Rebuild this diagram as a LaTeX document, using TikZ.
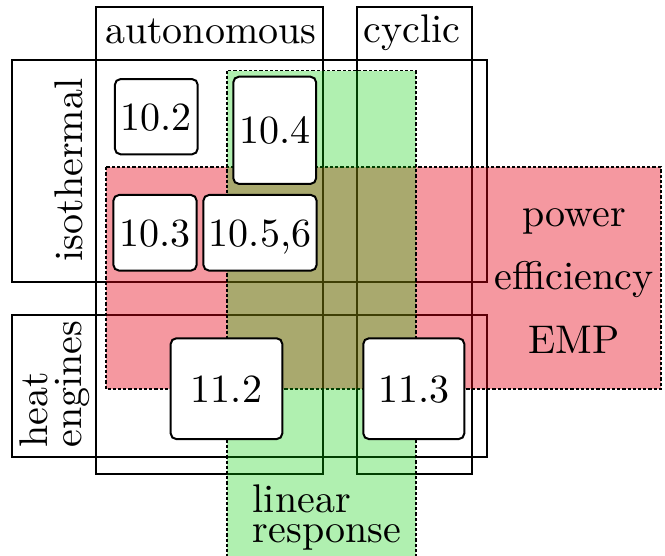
\documentclass[tikz,border=0pt]{standalone}
\definecolor{regred}{RGB}{230,0,20}
\definecolor{reggreen}{RGB}{0,206,0}
\begin{document}
\begin{tikzpicture}[x=0.25pt,y=-0.25pt,
  frame/.style={draw=black,line width=0.5pt},
  region/.style={draw=black,line width=0.4pt,dash pattern=on 0.8pt off 0.5pt},
  redregion/.style={region,fill=regred,fill opacity=0.404},
  greenregion/.style={region,fill=reggreen,fill opacity=0.31},
  secbox/.style={draw=black,line width=0.5pt,fill=white,rounded corners=1.4pt,inner sep=0pt,text depth=0pt},
  lbl/.style={inner sep=0pt,anchor=base}]
\useasboundingbox (0,0) rectangle (665,556);
% category frames
\draw[frame] (95.7,6.7) rectangle (323.3,474);
\draw[frame] (356.5,6.7) rectangle (472,474);
\draw[frame] (12.3,60.3) rectangle (486.7,282.3);
\draw[frame] (12.3,315) rectangle (486.7,456.7);
% regions
\draw[redregion] (105.7,167.3) rectangle (660.7,389);
\draw[greenregion] (226.7,70.7) rectangle (415.7,560);
% sections
\node[secbox,minimum width=20.7pt,minimum height=18.8pt] (s102) at (156.3,116.7) {10.2};
\node[secbox,minimum width=20.7pt,minimum height=26.8pt] (s104) at (274.7,130.3) {10.4};
\node[secbox,minimum width=20.8pt,minimum height=18.9pt] (s103) at (155,232.8) {10.3};
\node[secbox,minimum width=28.3pt,minimum height=18.9pt] (s1056) at (260,232.8) {10.5,6};
\node[secbox,minimum width=27.9pt,minimum height=25.2pt] (s112) at (226.5,388.7) {11.2};
\node[secbox,minimum width=25.25pt,minimum height=25.2pt] (s113) at (413.8,388.7) {11.3};
% labels
\node[lbl] (tauto) at (210.8,43.3) {autonomous};
\node[lbl] (tcyc) at (411.7,43) {cyclic};
\node[lbl,rotate=90] (tiso) at (82,170) {isothermal};
\node[lbl,rotate=90,anchor=base west] (theat) at (47.7,448.5) {heat};
\node[lbl,rotate=90,anchor=base west] (teng) at (81,448.5) {engines};
\node[lbl] (tpow) at (574,226.7) {power};
\node[lbl] (teff) at (574,290) {efficiency};
\node[lbl] (temp) at (574,353.3) {EMP};
\node[lbl,anchor=base west] (tlin) at (252,512.7) {linear};
\node[lbl,anchor=base west] (tres) at (252,542.7) {response};
\end{tikzpicture}
\end{document}
